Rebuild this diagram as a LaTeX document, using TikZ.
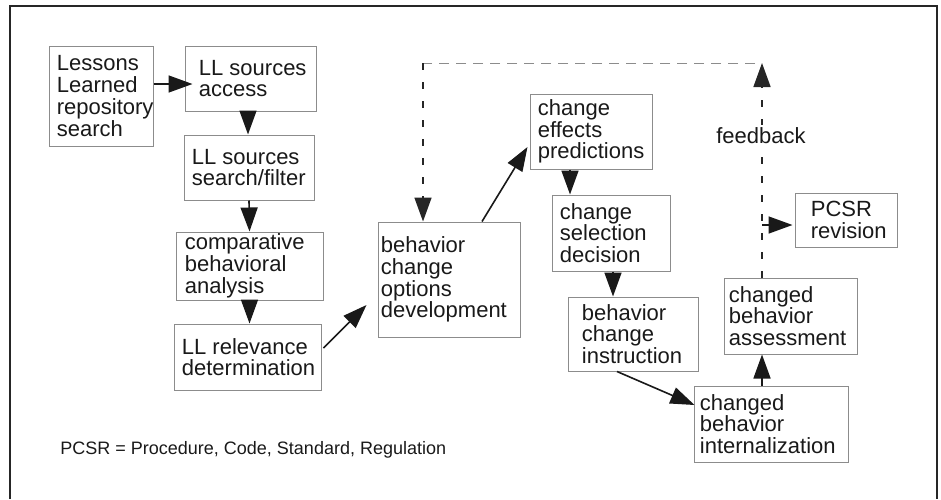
\documentclass[tikz,border=0pt]{standalone}
\usepackage{fontspec}
\setmainfont{Liberation Sans}
\usetikzlibrary{arrows.meta,calc}

\tikzset{
  pbox/.style={draw=black!45, line width=0.5pt, inner sep=0pt},
  ptext/.style={anchor=west, align=left, inner sep=0pt,
    font=\fontsize{11}{10.85}\selectfont, text=black!90},
  arr/.style={draw=black!90, line width=0.8pt,
    -{Triangle[length=12pt,width=8.5pt]}},
  fbline/.style={draw=black!85, line width=0.8pt, dash pattern=on 3.5pt off 6pt},
  loopline/.style={draw=black!45, line width=0.5pt, dash pattern=on 5pt off 3.5pt},
  frame/.style={draw=black!85, line width=1.3pt},
}

\begin{document}
\begin{tikzpicture}[x=0.5pt, y=-0.5pt]
\useasboundingbox (0,0) rectangle (941,499);

% open frame
\draw[frame] (10,499) -- (10,6) -- (937,6) -- (937,499);

% process boxes (sizes in pt = half the unit count)
\node[pbox, minimum width=52pt,   minimum height=50pt]   (b1)  at (101,96)    {};
\node[pbox, minimum width=65.5pt, minimum height=32.5pt] (b2)  at (250.5,78.5) {};
\node[pbox, minimum width=65pt,   minimum height=32.5pt] (b3)  at (249,167.5) {};
\node[pbox, minimum width=73.5pt, minimum height=34pt]   (b4)  at (249.5,266) {};
\node[pbox, minimum width=73.5pt, minimum height=33pt]   (b5)  at (247.5,357) {};
\node[pbox, minimum width=71pt,   minimum height=57.5pt] (b6)  at (449,279.5) {};
\node[pbox, minimum width=61pt,   minimum height=37.5pt] (b7)  at (591,131.5) {};
\node[pbox, minimum width=59pt,   minimum height=38pt]   (b8)  at (611,233)   {};
\node[pbox, minimum width=65pt,   minimum height=37pt]   (b9)  at (633,334)   {};
\node[pbox, minimum width=77pt,   minimum height=38pt]   (b10) at (771,424)   {};
\node[pbox, minimum width=66.5pt, minimum height=38pt]   (b11) at (790.5,316) {};
\node[pbox, minimum width=51pt,   minimum height=27pt]   (b12) at (846,220)   {};

% box texts
\node[ptext] (t1)  at ($(b1.west)+(8,0)$)   {Lessons\\Learned\\repository\\search};
\node[ptext] (t2)  at ($(b2.west)+(14,0)$)  {LL sources\\access};
\node[ptext] (t3)  at ($(b3.west)+(8,0)$)   {LL sources\\search/filter};
\node[ptext] (t4)  at ($(b4.west)+(9,0)$)   {comparative\\behavioral\\analysis};
\node[ptext] (t5)  at ($(b5.west)+(8,0)$)   {LL relevance\\determination};
\node[ptext] (t6)  at ($(b6.west)+(3,0)$)   {behavior\\change\\options\\development};
\node[ptext] (t7)  at ($(b7.west)+(8,0)$)   {change\\effects\\predictions};
\node[ptext] (t8)  at ($(b8.west)+(8,0)$)   {change\\selection\\decision};
\node[ptext] (t9)  at ($(b9.west)+(14,0)$)  {behavior\\change\\instruction};
\node[ptext] (t10) at ($(b10.west)+(6,0)$)  {changed\\behavior\\internalization};
\node[ptext] (t11) at ($(b11.west)+(5,0)$)  {changed\\behavior\\assessment};
\node[ptext] (t12) at ($(b12.west)+(16,0)$) {PCSR\\revision};

% main flow
\draw[arr, shorten >=-4pt] ($(b1.east)+(0,-12)$) -- ($(b2.west)+(0,5.5)$);
\draw[arr] ($(b2.south)+(-2.5,0)$) -- ($(b3.north)+(-1,0)$);
\draw[arr] (b3.south) -- (b4.north);
\draw[arr] (b4.south) -- ($(b5.north)+(2,0)$);
\draw[arr] ($(b5.east)+(2,-9)$) -- ($(b6.west)+(-11,25.5)$);
\draw[arr] ($(b6.north)+(33,0)$) -- ($(b7.west)+(-2,15.5)$);
\draw[arr] ($(b7.south)+(-21,0)$) -- ($(b8.north)+(-41,0)$);
\draw[arr] ($(b8.south)+(2,0)$) -- ($(b9.north)+(-20,0)$);
\draw[arr] ($(b9.south)+(-16,0)$) -- ($(b10.west)+(1,-19)$);
\draw[arr] ($(b10.north)+(-9,0)$) -- ($(b11.south)+(-28.5,0)$);

% feedback loop
\coordinate (fbtop)    at (762,63);
\coordinate (fbbranch) at (762,225);
\coordinate (loopl)    at (423,63);
\draw[fbline, arr, draw=black!85] ($(b11.north)+(-28.5,0)$) -- (fbtop);
\draw[loopline] ($(fbtop)+(-7,0)$) -- (loopl);
\draw[fbline, arr, draw=black!85] (loopl) -- ($(b6.north)+(-26,0)$);
\draw[arr] (fbbranch) -- ($(b12.west)+(-2,5)$);
\node[fill=white, inner sep=1.5pt, font=\fontsize{11}{13}\selectfont, text=black!90]
  (fblabel) at (761,136) {feedback};

% legend
\node[anchor=west, inner sep=0pt, font=\fontsize{9}{11}\selectfont, text=black!90]
  (note) at (60,450) {PCSR = Procedure, Code, Standard, Regulation};
\end{tikzpicture}
\end{document}
